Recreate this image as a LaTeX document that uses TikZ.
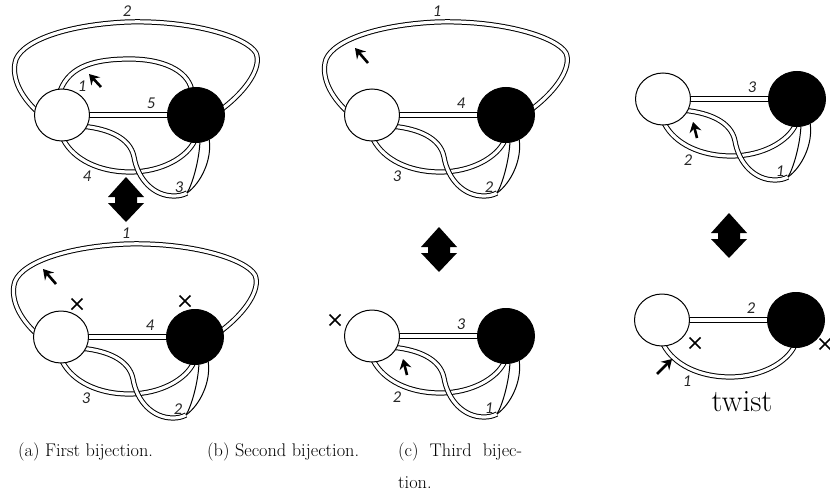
\documentclass[tikz,border=0pt]{standalone}
\usepackage{fontspec}
\newfontfamily\lblfont{Carlito}
\usetikzlibrary{shapes.geometric,arrows.meta,calc}
\pgfdeclarelayer{bg}
\pgfsetlayers{bg,main}
\tikzset{
  rib/.style={draw=black, line width=1pt, double=white, double distance=3.2pt},
  strand/.style={draw=black, line width=1pt},
  wv/.style={ellipse, draw=black, line width=1pt, fill=white, minimum width=55pt, minimum height=52pt, inner sep=0pt},
  bv/.style={ellipse, draw=black, line width=1pt, fill=black, minimum width=57pt, minimum height=55pt, inner sep=0pt},
  lbl/.style={font=\lblfont\itshape\fontsize{16.5}{16.5}\selectfont, inner sep=0pt, text=black!85},
  xmark/.style={line width=1.7pt},
  smallarr/.style={line width=2.6pt, -{Stealth[length=10pt,width=12pt,inset=3.5pt]}},
  capt/.style={font=\fontsize{18.3}{21}\selectfont, inner sep=0pt, anchor=base west},
}
\newcommand\Pverts{\node[wv] (W) at (0,0) {}; \node[bv] (B) at (134,0) {};}
\newcommand\Pstraight[1]{%
  \begin{pgfonlayer}{bg}
  \fill[white] (W.center) ++(0,-2.1) rectangle ($(B.center)+(0,2.1)$);
  \draw[strand] (W.center) ++(0,-2.1) -- ($(B.center)+(0,-2.1)$);
  \draw[strand] (W.center) ++(0,2.1) -- ($(B.center)+(0,2.1)$);
  \end{pgfonlayer}\node[lbl] (ls) at (89,-12) {#1};}
\newcommand\Ploop[1]{\begin{pgfonlayer}{bg}\draw[rib, shorten <=-2pt, shorten >=-2pt] (W.168) .. controls (-40,-18) and (-50,-35) .. (-47,-52) .. controls (-44,-72) and (0,-90) .. (65,-93) .. controls (130,-95) and (185,-78) .. (194,-62) .. controls (200,-48) and (185,-25) .. (B.15);\end{pgfonlayer}\node[lbl] (lo) at (65,-104) {#1};}
\newcommand\Ptop[1]{\begin{pgfonlayer}{bg}\draw[rib, shorten <=-2pt, shorten >=-2pt] (W.92) .. controls (8,-50) and (35,-56) .. (68,-56) .. controls (100,-56) and (125,-45) .. (B.100);\end{pgfonlayer}\node[lbl] (lt) at (20,-29) {#1};}
\newcommand\Plow[1]{\begin{pgfonlayer}{bg}\draw[rib, shorten <=-2pt, shorten >=-2pt] (W.-85) .. controls (12,45) and (38,57) .. (68,57) .. controls (100,57) and (125,42) .. (B.-95);\end{pgfonlayer}\node[lbl] (ll) at (25,61) {#1};}
\newcommand\Ptwist[1]{%
  \coordinate (T) at (125,78);
  \begin{pgfonlayer}{bg}
  \draw[rib, shorten <=-2pt] (W.-25) .. controls (45,14) and (68,22) .. (72,42) .. controls (76,65) and (92,81) .. (112,81) .. controls (117,81) and (121,80) .. (T);
  \fill[white] (T) .. controls (131,68) and (137,45) .. (B.-82) -- (B.-62) .. controls (150,45) and (139,68) .. (T);
  \draw[strand] (T) .. controls (131,68) and (137,45) .. (B.-82);
  \draw[strand] (T) .. controls (139,68) and (150,45) .. (B.-62);
  \end{pgfonlayer}
  \node[lbl] (lw) at (117,72) {#1};}
\newcommand\Parrow[2]{\draw[smallarr] #1 -- #2;}
\newcommand\Pcross[1]{\draw[xmark, shift={#1}] (-5.5,-5.5) -- (5.5,5.5) (-5.5,5.5) -- (5.5,-5.5);}
\newcommand\Dbl[1]{\fill[black, shift={#1}] (0,-23) -- (18,-3) -- (11,-3) -- (11,3) -- (18,3) -- (0,22) -- (-18,3) -- (-11,3) -- (-11,-3) -- (-18,-3) -- cycle;}
\begin{document}
\begin{tikzpicture}[x=1pt,y=-1pt]
\useasboundingbox (0,0) rectangle (830,495);
% (a) top
\begin{scope}[shift={(62,115)}, name prefix=at-]
  \Pverts \Pstraight{5} \Ploop{2} \Ptop{1} \Plow{4} \Ptwist{3}
  \Parrow{(39,-28)}{(27,-41)}
\end{scope}
% (a) bottom
\begin{scope}[shift={(61,337)}, name prefix=ab-]
  \Pverts \Pstraight{4} \Ploop{1} \Plow{3} \Ptwist{2}
  \Parrow{(-5,-53)}{(-18,-68)}
  \Pcross{(16,-33)} \Pcross{(124,-36)}
\end{scope}
% (b) top
\begin{scope}[shift={(372,115)}, name prefix=bt-]
  \Pverts \Pstraight{4} \Ploop{1} \Plow{3} \Ptwist{2}
  \Parrow{(-4,-52)}{(-17,-67)}
\end{scope}
% (b) bottom
\begin{scope}[shift={(372,336)}, name prefix=bb-]
  \Pverts \Pstraight{3} \Plow{2} \Ptwist{1}
  \Parrow{(35,39)}{(31,23)}
  \Pcross{(-37,-16)}
\end{scope}
% (c) top
\begin{scope}[shift={(663,99)}, name prefix=ct-]
  \Pverts \Pstraight{3} \Plow{2} \Ptwist{1}
  \Parrow{(34,39)}{(30,23)}
\end{scope}
% (c) bottom
\begin{scope}[shift={(662,320)}, name prefix=cb-]
  \Pverts \Pstraight{2} \Plow{1}
  \Parrow{(-5,54)}{(10,39)}
  \Pcross{(33,23)} \Pcross{(163,24)}
  \node[font=\fontsize{31}{34}\selectfont, inner sep=0pt] (tw) at (80,82) {twist};
\end{scope}
% double arrows
\Dbl{(126,200)}
\Dbl{(439,250)}
\Dbl{(729,236)}
% captions
\node[capt] (ca) at (18,456) {(a) First bijection.};
\node[capt] (cb) at (207,456) {(b) Second bijection.};
\node[capt] (cc) at (398,456) {\hbox to 124pt{(c)\hfill Third\hfill bijec-}};
\node[capt] (cc2) at (398,488) {tion.};
\end{tikzpicture}
\end{document}
